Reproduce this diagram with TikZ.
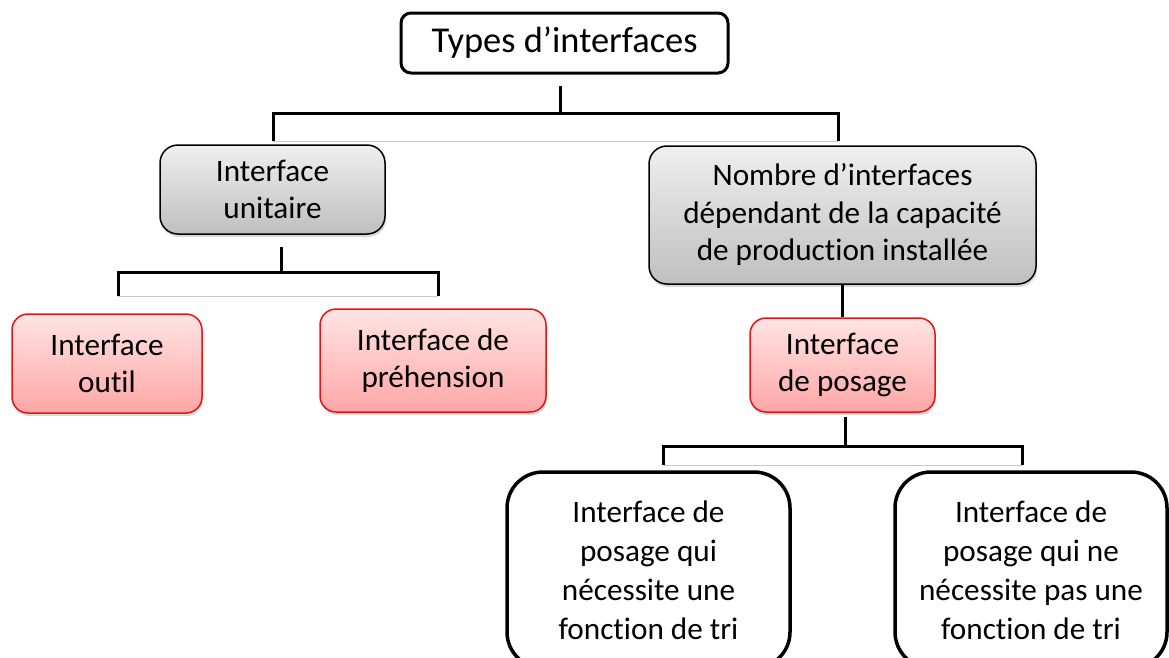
\documentclass[tikz,border=0pt]{standalone}
\usepackage{fontspec}
\setmainfont{Carlito}[Ligatures={NoCommon,NoRequired,NoContextual}]
\usetikzlibrary{shadows}
\definecolor{grayTop}{HTML}{EFEFEF}
\definecolor{grayBot}{HTML}{BFBFBF}
\definecolor{pinkTop}{HTML}{FFE4E4}
\definecolor{pinkBot}{HTML}{FFA6A6}
\definecolor{pinkLine}{HTML}{E81414}
\definecolor{thinGray}{HTML}{C8C8C8}
\begin{document}
\begin{tikzpicture}[x=1pt,y=-1pt,
  base/.style={align=center, inner sep=0pt, font=\fontsize{31.2}{37.5}\selectfont},
  titlebox/.style={base, draw=black, line width=3pt, fill=white, rounded corners=10pt,
    font=\fontsize{36.4}{43}\selectfont},
  graybox/.style={base, draw=black, line width=1.5pt, rounded corners=18pt,
    top color=grayTop, bottom color=grayBot,
    drop shadow={opacity=0.3, shadow xshift=1pt, shadow yshift=-3pt}},
  pinkbox/.style={base, draw=pinkLine, line width=1.5pt, rounded corners=16pt,
    top color=pinkTop, bottom color=pinkBot,
    drop shadow={opacity=0.3, shadow xshift=1pt, shadow yshift=-3pt}},
  whitebox/.style={base, font=\fontsize{31.2}{39}\selectfont, draw=black, line width=3.5pt,
    fill=white, rounded corners=36pt},
  conn/.style={line width=3pt, black, line join=miter},
  baseline gray/.style={line width=1pt, thinGray}
]
\useasboundingbox (0,0) rectangle (1169,657);
\clip (0,0) rectangle (1169,657);

% nodes
\node[titlebox, minimum width=327pt, minimum height=60pt] (title) at (564.5,43) {Types d’interfaces};
\node[graybox, minimum width=225pt, minimum height=89pt] (unitaire) at (272.5,189.5) {Interface\\unitaire};
\node[graybox, minimum width=387pt, minimum height=138pt] (nombre) at (842.5,215) {Nombre d’interfaces\\dépendant de la capacité\\de production installée};
\node[pinkbox, minimum width=190pt, minimum height=99pt] (outil) at (107,363.5) {Interface\\outil};
\node[pinkbox, minimum width=226pt, minimum height=103pt] (prehension) at (433,360.5) {Interface de\\préhension};
\node[pinkbox, minimum width=185pt, minimum height=94pt] (posage) at (842.5,365) {Interface\\de posage};
\node[whitebox, minimum width=283pt, minimum height=196pt] (tri) at (648.5,570) {Interface de\\posage qui\\nécessite une\\fonction de tri};
\node[whitebox, minimum width=272pt, minimum height=196pt] (sanstri) at (1031,570) {Interface de\\posage qui ne\\nécessite pas une\\fonction de tri};

% bracket under title
\coordinate (t1) at (560,86);
\coordinate (t2) at (560,113);
\coordinate (tL) at (273,113);
\coordinate (tR) at (838,113);
\coordinate (tLb) at (273,141);
\coordinate (tRb) at (838,141);
\draw[baseline gray] (tLb) -- (tRb);
\draw[conn] (t1) -- (t2);
\draw[conn] (tLb) -- (tL) -- (tR) -- (tRb);

% bracket under unitaire
\coordinate (u1) at (281,247);
\coordinate (u2) at (281,272);
\coordinate (uL) at (118,272);
\coordinate (uR) at (438,272);
\coordinate (uLb) at (118,296);
\coordinate (uRb) at (438,296);
\draw[baseline gray] (uLb) -- (uRb);
\draw[conn] (u1) -- (u2);
\draw[conn] (uLb) -- (uL) -- (uR) -- (uRb);

% nombre -> posage
\draw[conn] (nombre.south) -- (posage.north);

% bracket under posage
\coordinate (p1) at (845,417);
\coordinate (p2) at (845,446);
\coordinate (pL) at (663,446);
\coordinate (pR) at (1022,446);
\coordinate (pLb) at (663,465);
\coordinate (pRb) at (1022,465);
\draw[baseline gray] (pLb) -- (pRb);
\draw[conn] (p1) -- (p2);
\draw[conn] (pLb) -- (pL) -- (pR) -- (pRb);
\end{tikzpicture}
\end{document}
